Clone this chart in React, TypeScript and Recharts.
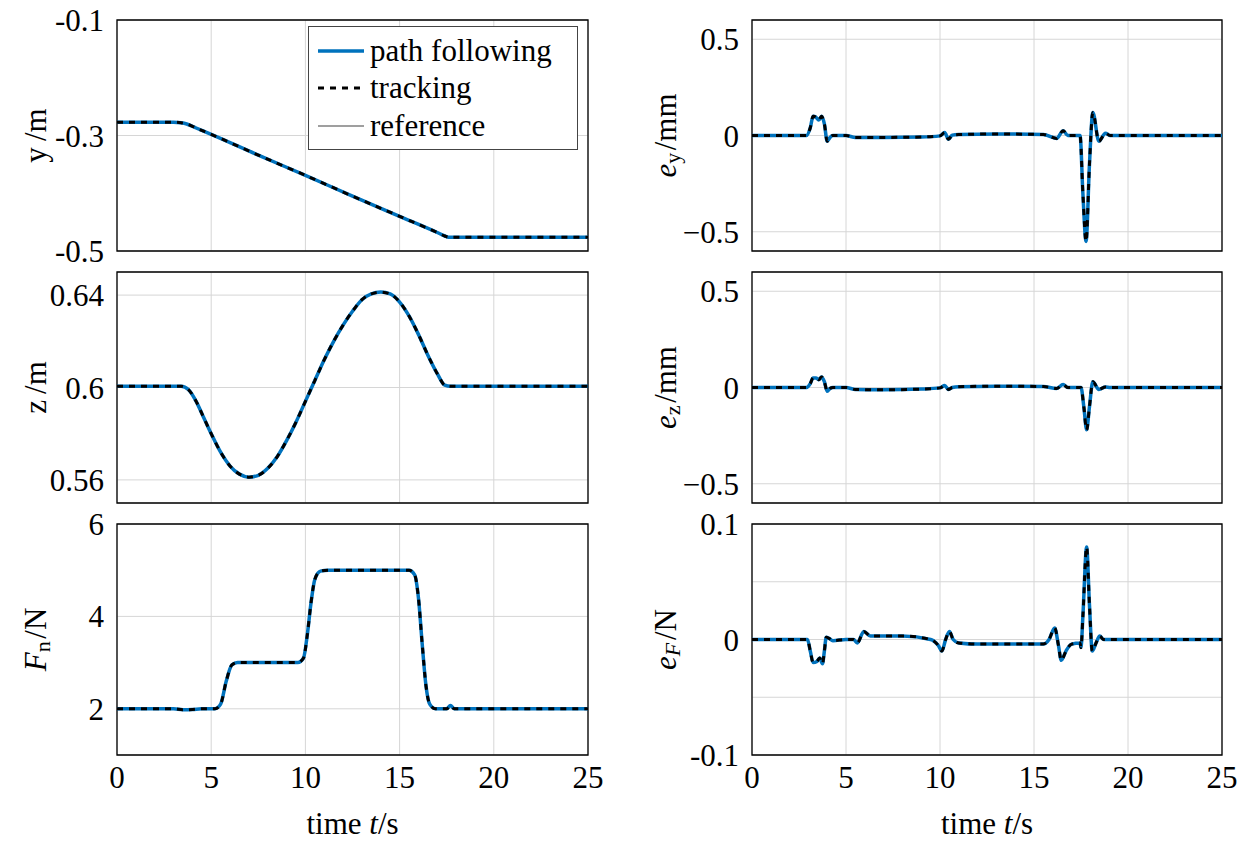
import { LineChart, Line, XAxis, YAxis, CartesianGrid, ReferenceArea, Label, Legend } from 'recharts';

const FONT = '"Liberation Serif", "DejaVu Serif", serif';
const FS = 31;
const BLUE = '#0072BD';
const GRID = '#d6d6d6';

// shared time axis
const timeTicks = [0, 5, 10, 15, 20, 25];

// y position / m (path following, tracking and reference coincide at this scale)
const yTime = [0, 3.0, 3.4, 3.7, 4.2, 5, 7.5, 10, 12.5, 15, 17, 17.4, 17.6, 17.8, 25];
const yPos = [-0.277, -0.277, -0.278, -0.28, -0.287, -0.298, -0.334, -0.369, -0.405, -0.44, -0.468, -0.474, -0.476, -0.476, -0.476];
const yTicks = [-0.5, -0.3, -0.1];
const yTickLabels = ['-0.5', '-0.3', '-0.1'];

// z position / m
const zTime = [0, 3.4, 3.8, 4.2, 4.6, 5, 5.5, 6, 6.5, 7, 7.5, 8, 8.5, 9, 9.5, 10, 10.5, 11, 11.5, 12, 12.5, 13, 13.5, 14, 14.5, 15, 15.5, 16, 16.5, 17, 17.4, 17.7, 25];
const zPos = [0.6005, 0.6005, 0.599, 0.594, 0.587, 0.58, 0.572, 0.566, 0.5625, 0.5612, 0.562, 0.565, 0.57, 0.577, 0.585, 0.594, 0.603, 0.612, 0.62, 0.627, 0.633, 0.638, 0.6405, 0.6413, 0.6405, 0.637, 0.631, 0.623, 0.614, 0.606, 0.601, 0.6005, 0.6005];
const zTicks = [0.56, 0.6, 0.64];
const zTickLabels = ['0.56', '0.6', '0.64'];

// normal force / N
const fTime = [0, 3, 3.5, 4, 4.5, 5.2, 5.5, 5.8, 6.1, 6.4, 9.6, 9.9, 10.1, 10.3, 10.5, 10.8, 11.2, 15.5, 15.8, 16.0, 16.2, 16.4, 16.6, 16.9, 17.5, 17.7, 17.9, 25];
const fForce = [2, 2, 1.98, 1.985, 2, 2, 2.1, 2.6, 2.95, 3, 3, 3.1, 3.6, 4.3, 4.8, 4.98, 5, 5, 4.9, 4.4, 3.4, 2.5, 2.1, 2, 2, 2.07, 2, 2];
const fTicks = [2, 4, 6];
const fTickLabels = ['2', '4', '6'];

// error e_y / mm
const eyTime = [0, 2.9, 3.1, 3.25, 3.4, 3.55, 3.7, 3.85, 4.0, 4.15, 4.3, 5, 5.5, 7, 9, 10, 10.25, 10.45, 10.65, 11, 13, 15.5, 16.2, 16.55, 16.8, 17.45, 17.6, 17.77, 17.95, 18.13, 18.45, 18.8, 19.05, 25];
const eyErr = [0, 0, 0.04, 0.1, 0.095, 0.08, 0.1, 0.06, -0.03, -0.01, 0, 0, -0.01, -0.01, -0.008, -0.002, 0.015, -0.02, 0.002, 0.005, 0.008, 0.005, -0.015, 0.025, 0, 0, -0.3, -0.55, -0.15, 0.12, -0.03, 0.012, 0, 0];
const eTicks = [-0.5, 0, 0.5];
const eTickLabels = ['\u22120.5', '0', '0.5'];

// error e_z / mm
const ezTime = [0, 2.9, 3.1, 3.25, 3.4, 3.55, 3.7, 3.85, 4.0, 4.15, 4.3, 5, 5.5, 7, 9, 10, 10.25, 10.45, 10.65, 11, 13, 15.5, 16.2, 16.55, 16.8, 17.5, 17.65, 17.8, 17.95, 18.13, 18.45, 18.8, 19.05, 25];
const ezErr = [0, 0, 0.02, 0.05, 0.05, 0.04, 0.055, 0.03, -0.02, -0.005, 0, 0, -0.01, -0.012, -0.008, -0.002, 0.01, -0.01, 0, 0.004, 0.007, 0.005, -0.005, 0.015, 0, 0, -0.1, -0.22, -0.1, 0.03, -0.01, 0.003, 0, 0];

// error e_F / N
const eFTime = [0, 2.95, 3.1, 3.25, 3.45, 3.6, 3.75, 3.85, 3.95, 4.1, 4.3, 5.0, 5.4, 5.6, 5.95, 6.3, 8, 9.5, 9.9, 10.1, 10.3, 10.5, 10.7, 11, 12, 15.5, 15.8, 16.1, 16.3, 16.45, 16.7, 17, 17.45, 17.5, 17.6, 17.8, 17.95, 18.1, 18.3, 18.5, 18.7, 25];
const eFErr = [0, 0, -0.01, -0.02, -0.019, -0.016, -0.021, -0.01, 0.002, 0.001, -0.001, 0, 0, -0.003, 0.007, 0.003, 0.003, 0, -0.005, -0.01, 0, 0.007, 0, -0.003, -0.004, -0.004, 0, 0.01, -0.005, -0.018, -0.01, -0.004, -0.003, -0.007, 0.02, 0.08, 0.03, -0.01, -0.003, 0.003, 0, 0];
const eFTicks = [-0.1, -0.05, 0, 0.05, 0.1];
const eFTickLabels = ['-0.1', '', '0', '', '0.1'];

const DASH = '6 6';

const legendItems = [
  { name: 'path following', color: BLUE, width: 3.5, dash: undefined },
  { name: 'tracking', color: '#000', width: 3, dash: DASH },
  { name: 'reference', color: '#7f7f7f', width: 1.5, dash: undefined },
];

const table = (t: number[], vals: number[], withRef: boolean) =>
  t.map((v, i) => ({ t: v, path: vals[i], track: vals[i], ref: withRef ? vals[i] : undefined }));

const sub = (s: string, italic = false) => (
  <>
    <tspan dy={7} fontSize={22} fontStyle={italic ? 'italic' : 'normal'}>{s}</tspan>
    <tspan dy={-7}>{'\u200a'}</tspan>
  </>
);

const LegendBox = () => (
  <div
    style={{
      border: '1px solid #444',
      background: '#fff',
      padding: '5px 10px 4px 9px',
      fontFamily: FONT,
      fontSize: FS,
      width: 270,
      boxSizing: 'border-box',
      color: '#000',
    }}
  >
    {legendItems.map(it => (
      <div key={it.name} style={{ display: 'flex', alignItems: 'center', height: 37.5 }}>
        <svg width={46} height={10} style={{ marginRight: 6 }}>
          <line x1={0} y1={5} x2={46} y2={5} stroke={it.color} strokeWidth={it.width} strokeDasharray={it.dash} />
        </svg>
        <span>{it.name}</span>
      </div>
    ))}
  </div>
);

interface PanelProps {
  left: number;
  top: number;
  yw: number;
  plotW: number;
  data: { t: number; path: number; track: number; ref?: number }[];
  domain: [number, number];
  ticks: number[];
  labels: string[];
  ylabel: React.ReactNode;
  labelX: number;
  bottom?: boolean;
  showRef?: boolean;
  legend?: boolean;
}

const PLOT_H = 231;
const PAD = 25;

function Panel({ left, top, yw, plotW, data, domain, ticks, labels, ylabel, labelX, bottom, showRef, legend }: PanelProps) {
  const xh = 90;
  const height = PAD + PLOT_H + (bottom ? xh : PAD);
  const tickStyle = { fill: '#000', fontSize: FS, fontFamily: FONT };
  return (
    <div style={{ position: 'absolute', left, top: top - PAD }}>
      <LineChart width={yw + plotW + PAD} height={height} data={data} margin={{ top: PAD, right: PAD, bottom: bottom ? 0 : PAD, left: 0 }}>
        <CartesianGrid stroke={GRID} strokeWidth={1} />
        <XAxis
          dataKey="t"
          type="number"
          domain={[0, 25]}
          ticks={timeTicks}
          hide={!bottom}
          height={xh}
          tick={tickStyle}
          tickSize={0}
          tickMargin={11}
          axisLine={false}
          tickLine={false}
          interval={0}
        >
          <Label
            content={(p: any) => {
              const vb = p.viewBox;
              return (
                <text x={vb.x + vb.width / 2} y={vb.y + 68} textAnchor="middle" dominantBaseline="central" fontFamily={FONT} fontSize={FS} fill="#000">
                  time <tspan fontStyle="italic">t</tspan>/s
                </text>
              );
            }}
          />
        </XAxis>
        <YAxis
          type="number"
          domain={domain}
          ticks={ticks}
          width={yw}
          tick={tickStyle}
          tickSize={0}
          tickMargin={13}
          axisLine={false}
          tickLine={false}
          interval={0}
          allowDataOverflow
          tickFormatter={(v: number) => labels[ticks.indexOf(v)] ?? ''}
        >
          <Label
            content={(p: any) => {
              const vb = p.viewBox;
              const cx = vb.x + labelX;
              const cy = vb.y + vb.height / 2;
              return (
                <text x={cx} y={cy} transform={`rotate(-90 ${cx} ${cy})`} textAnchor="middle" dominantBaseline="central" fontFamily={FONT} fontSize={FS} fill="#000">
                  {ylabel}
                </text>
              );
            }}
          />
        </YAxis>
        {showRef && (
          <Line type="monotone" dataKey="ref" stroke="#7f7f7f" strokeWidth={1.5} dot={false} isAnimationActive={false} />
        )}
        <Line type="monotone" dataKey="path" stroke={BLUE} strokeWidth={3.5} dot={false} isAnimationActive={false} />
        <Line type="monotone" dataKey="track" stroke="#000" strokeWidth={3} strokeDasharray={DASH} dot={false} isAnimationActive={false} />
        <ReferenceArea x1={0} x2={25} y1={domain[0]} y2={domain[1]} fill="none" stroke="#000" strokeWidth={1.3} />
        {legend && (
          <Legend
            content={<LegendBox />}
            layout="horizontal"
            verticalAlign="middle"
            align="center"
            wrapperStyle={{ left: 308, top: 26 - top + PAD, width: 270 }}
          />
        )}
      </LineChart>
    </div>
  );
}

const rowTops = [20, 272, 524];

export default function App() {
  const L = { left: 0, yw: 117, plotW: 471, labelX: 35 };
  const R = { left: 620, yw: 132, plotW: 470, labelX: 45 };
  return (
    <div style={{ position: 'absolute', left: 0, top: 0, width: 1252, height: 843, background: '#fff' }}>
      <Panel {...L} top={rowTops[0]} data={table(yTime, yPos, true)} domain={[-0.5, -0.1]} ticks={yTicks} labels={yTickLabels}
        ylabel={<>y{'\u2009'}/m</>} showRef legend />
      <Panel {...L} top={rowTops[1]} data={table(zTime, zPos, true)} domain={[0.55, 0.65]} ticks={zTicks} labels={zTickLabels}
        ylabel={<>z{'\u2009'}/m</>} showRef />
      <Panel {...L} top={rowTops[2]} data={table(fTime, fForce, true)} domain={[1, 6]} ticks={fTicks} labels={fTickLabels}
        ylabel={<><tspan fontStyle="italic">F</tspan>{sub('n')}/N</>} showRef bottom />
      <Panel {...R} top={rowTops[0]} data={table(eyTime, eyErr, false)} domain={[-0.6, 0.6]} ticks={eTicks} labels={eTickLabels}
        ylabel={<><tspan fontStyle="italic">e</tspan>{sub('y')}/mm</>} />
      <Panel {...R} top={rowTops[1]} data={table(ezTime, ezErr, false)} domain={[-0.6, 0.6]} ticks={eTicks} labels={eTickLabels}
        ylabel={<><tspan fontStyle="italic">e</tspan>{sub('z')}/mm</>} />
      <Panel {...R} top={rowTops[2]} data={table(eFTime, eFErr, false)} domain={[-0.1, 0.1]} ticks={eFTicks} labels={eFTickLabels}
        ylabel={<><tspan fontStyle="italic">e</tspan>{sub('F', true)}/N</>} bottom />
    </div>
  );
}
